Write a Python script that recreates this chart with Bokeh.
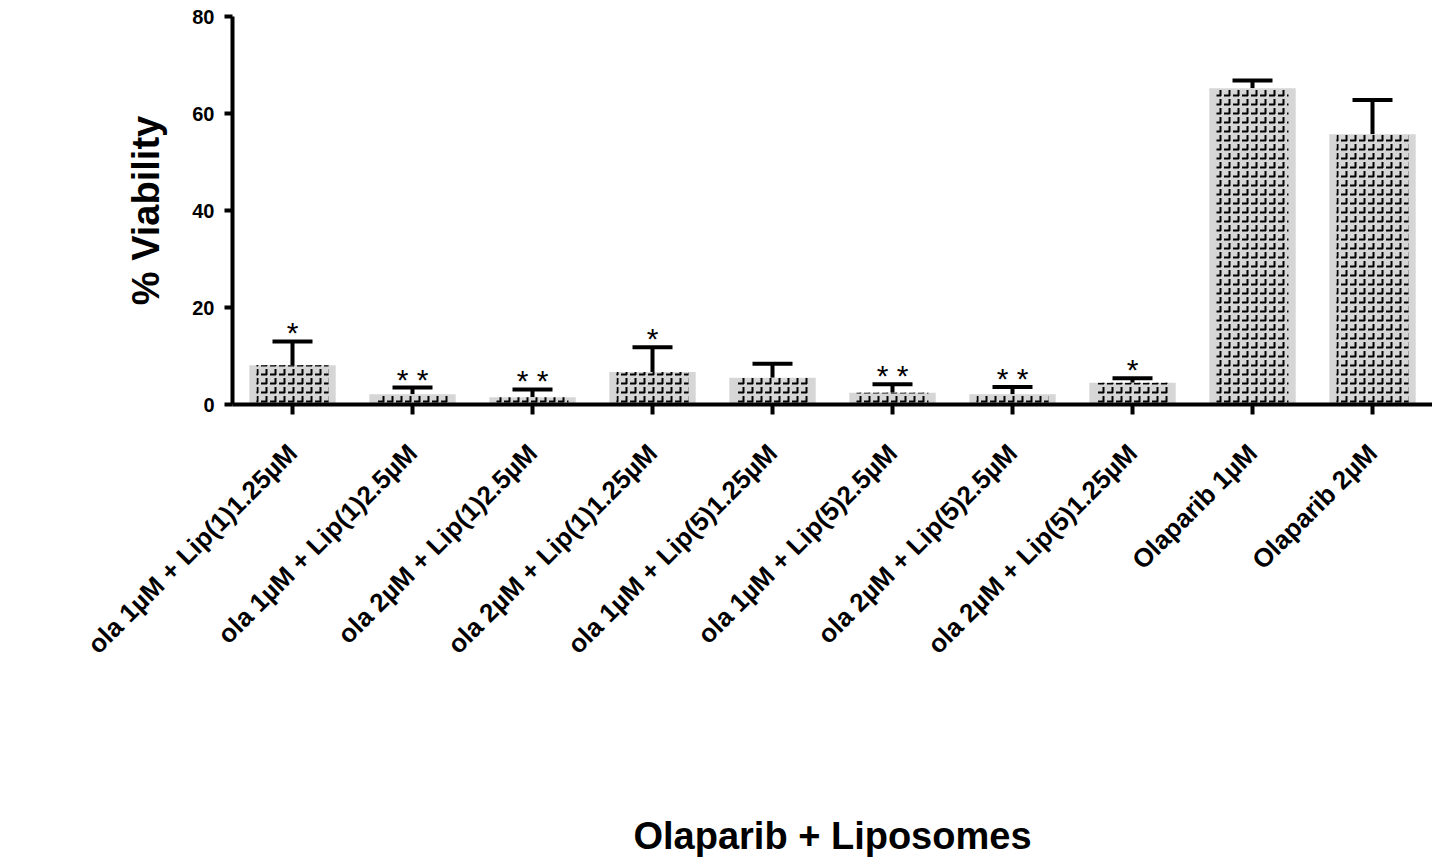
import math
from bokeh.plotting import figure
from bokeh.models import ColumnDataSource, Whisker, TeeHead, FactorRange, Range1d, FixedTicker
from bokeh.embed import file_html
from bokeh.resources import INLINE
from bokeh.core.properties import value

categories = [
    "ola 1µM + Lip(1)1.25µM",
    "ola 1µM + Lip(1)2.5µM",
    "ola 2µM + Lip(1)2.5µM",
    "ola 2µM + Lip(1)1.25µM",
    "ola 1µM + Lip(5)1.25µM",
    "ola 1µM + Lip(5)2.5µM",
    "ola 2µM + Lip(5)2.5µM",
    "ola 2µM + Lip(5)1.25µM",
    "Olaparib 1µM",
    "Olaparib 2µM",
]
viability = [8.1, 2.1, 1.5, 6.7, 5.5, 2.4, 2.1, 4.5, 65.2, 55.7]
sd_upper = [4.9, 1.4, 1.6, 5.1, 2.9, 1.8, 1.5, 0.9, 1.6, 7.1]
significance = ["*", "* *", "* *", "*", "", "* *", "* *", "*", "", ""]
y_ticks = [0, 20, 40, 60, 80]

upper = [v + e for v, e in zip(viability, sd_upper)]
src = ColumnDataSource(dict(cat=categories, v=viability, up=upper, sig=significance))

FONT = "Liberation Sans"

p = figure(
    x_range=FactorRange(*categories, range_padding=0.0),
    y_range=Range1d(0, 80),
    width=1432, height=860,
    output_backend="svg", toolbar_location=None,
    min_border_left=232, min_border_top=16, min_border_right=0, min_border_bottom=456,
)
p.outline_line_color = None
p.background_fill_color = "white"
p.xgrid.visible = False
p.ygrid.visible = False

# bars
p.vbar(x="cat", top="v", bottom=0, width=0.72, source=src,
       fill_color="#d6d6d6", line_color=None)
p.vbar(x="cat", top="v", bottom=0, width=0.6, source=src,
       fill_alpha=0, line_color=None, hatch_pattern="horizontal_dash",
       hatch_color="black", hatch_scale=9, hatch_weight=2)
p.vbar(x="cat", top="v", bottom=0, width=0.6, source=src,
       fill_alpha=0, line_color=None, hatch_pattern="vertical_dash",
       hatch_color="black", hatch_scale=9, hatch_weight=2)

# error bars (upper only)
w = Whisker(base="cat", lower="v", upper="up", source=src, dimension="height",
            line_color="black", line_width=4,
            upper_head=TeeHead(size=40, line_width=4, line_color="black"),
            lower_head=None)
p.add_layout(w)

# significance stars
p.text(x="cat", y="up", text="sig", source=src, text_align="center",
       text_baseline="bottom", y_offset=8, text_font=value(FONT),
       text_font_size="30px", text_color="black")

# axes styling
for ax in (p.xaxis[0], p.yaxis[0]):
    ax.axis_line_width = 4
    ax.axis_line_color = "black"
    ax.major_tick_line_width = 4
    ax.major_tick_line_color = "black"
    ax.major_tick_in = 0
    ax.minor_tick_line_color = None
    ax.major_label_text_font = FONT
    ax.major_label_text_font_style = "bold"
    ax.major_label_text_color = "black"
    ax.axis_label_text_font = FONT
    ax.axis_label_text_font_style = "bold"
    ax.axis_label_text_color = "black"
    ax.axis_label_text_font_size = "38px"

p.yaxis.ticker = FixedTicker(ticks=y_ticks)
p.yaxis.major_tick_out = 8
p.yaxis.major_label_text_font_size = "20px"
p.yaxis.major_label_standoff = 10
p.yaxis.axis_label = "% Viability"
p.yaxis.axis_label_standoff = 22

p.xaxis.major_tick_out = 10
p.xaxis.major_label_text_font_size = "26px"
p.xaxis.major_label_orientation = math.pi / 4
p.xaxis.major_label_standoff = 34
p.xaxis.axis_label = "Olaparib + Liposomes"
p.xaxis.axis_label_standoff = 142

open("out.html", "w").write(file_html(p, INLINE))
